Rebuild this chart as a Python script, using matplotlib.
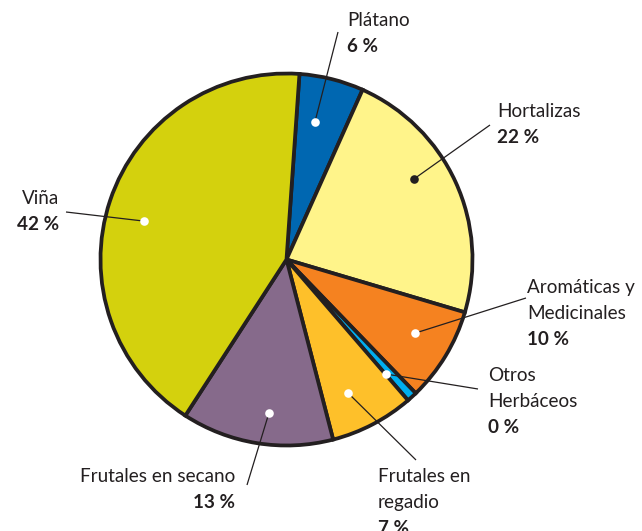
import matplotlib
matplotlib.use("Agg")
import matplotlib.pyplot as plt
import numpy as np

# ---- data ----
categories = ["Plátano", "Hortalizas", "Aromáticas y\nMedicinales", "Otros\nHerbáceos",
              "Frutales en\nregadio", "Frutales en secano", "Viña"]
shares = [5.6, 22.9, 8.2, 0.9, 7.3, 13.2, 42.0]
pct_labels = ["6 %", "22 %", "10 %", "0 %", "7 %", "13 %", "42 %"]
colors = ["#0067b1", "#fff48a", "#f58220", "#00aeef", "#fec02a", "#866a8b", "#d4d10d"]

# ---- layout (pixel space, y from top) ----
W, H = 642, 531
CX, CY, R = 286.5, 259.5, 186
START = 4.0  # degrees clockwise from top where first wedge begins
# dot placement: (angle offset from wedge middle [deg], radius fraction), dot colour
dot_place = [(-2.4, 0.755), (-7.6, 0.81), (-1.4, 0.796), (1.4, 0.816),
             (2.9, 0.79), (-2.7, 0.83), (-3.4, 0.794)]
dot_colors = ["white", "#231f20", "white", "white", "white", "white", "white"]
# leader line end point
line_end = [(338, 32), (490, 125), (526, 298), (478, 389), (416, 460), (247, 485), (66, 212)]
# text anchor: x, baseline of first line, alignment
text_anchor = [(347, 26, "left"), (497, 117, "left"), (527, 293, "left"), (488, 381, "left"),
               (378, 482, "left"), (235, 482, "right"), (59, 204, "right")]
LINE_H = 26
INK = "#231f20"
FS = 13.6

fig = plt.figure(figsize=(W / 100, H / 100), dpi=100)
ax = fig.add_axes([0, 0, 1, 1])

def to_data(x, y):
    return x, H - y

wedges, _ = ax.pie(shares, colors=colors, startangle=90 - START, counterclock=False,
                   center=to_data(CX, CY), radius=R,
                   wedgeprops=dict(edgecolor=INK, linewidth=2.7, joinstyle="miter"))
ax.set_xlim(0, W)
ax.set_ylim(0, H)
ax.set_aspect("auto")
ax.axis("off")

total = float(sum(shares))
bounds = START + 360.0 * np.concatenate([[0], np.cumsum(shares)]) / total
cx_d, cy_d = to_data(CX, CY)
for i in range(len(shares)):
    mid = 0.5 * (bounds[i] + bounds[i + 1])
    off, rf = dot_place[i]
    th = np.deg2rad(90 - (mid + off))
    dx = cx_d + rf * R * np.cos(th)
    dy = cy_d + rf * R * np.sin(th)
    ex, ey = to_data(*line_end[i])
    ax.plot([dx, ex], [dy, ey], color=INK, lw=0.9, zorder=5, solid_capstyle="butt")
    ax.plot([dx], [dy], marker="o", ms=6.2, color=dot_colors[i], mec="none", zorder=6)
    tx, ty, ha = text_anchor[i]
    lines = categories[i].split("\n")
    for j, ln in enumerate(lines):
        ax.text(*to_data(tx, ty + j * LINE_H), ln, ha=ha, va="baseline",
                fontsize=FS, family="Lato", color=INK)
    ax.text(*to_data(tx, ty + len(lines) * LINE_H), pct_labels[i], ha=ha, va="baseline",
            fontsize=FS, family="Lato", weight="bold", color=INK)

fig.savefig("out.png", dpi=100)
